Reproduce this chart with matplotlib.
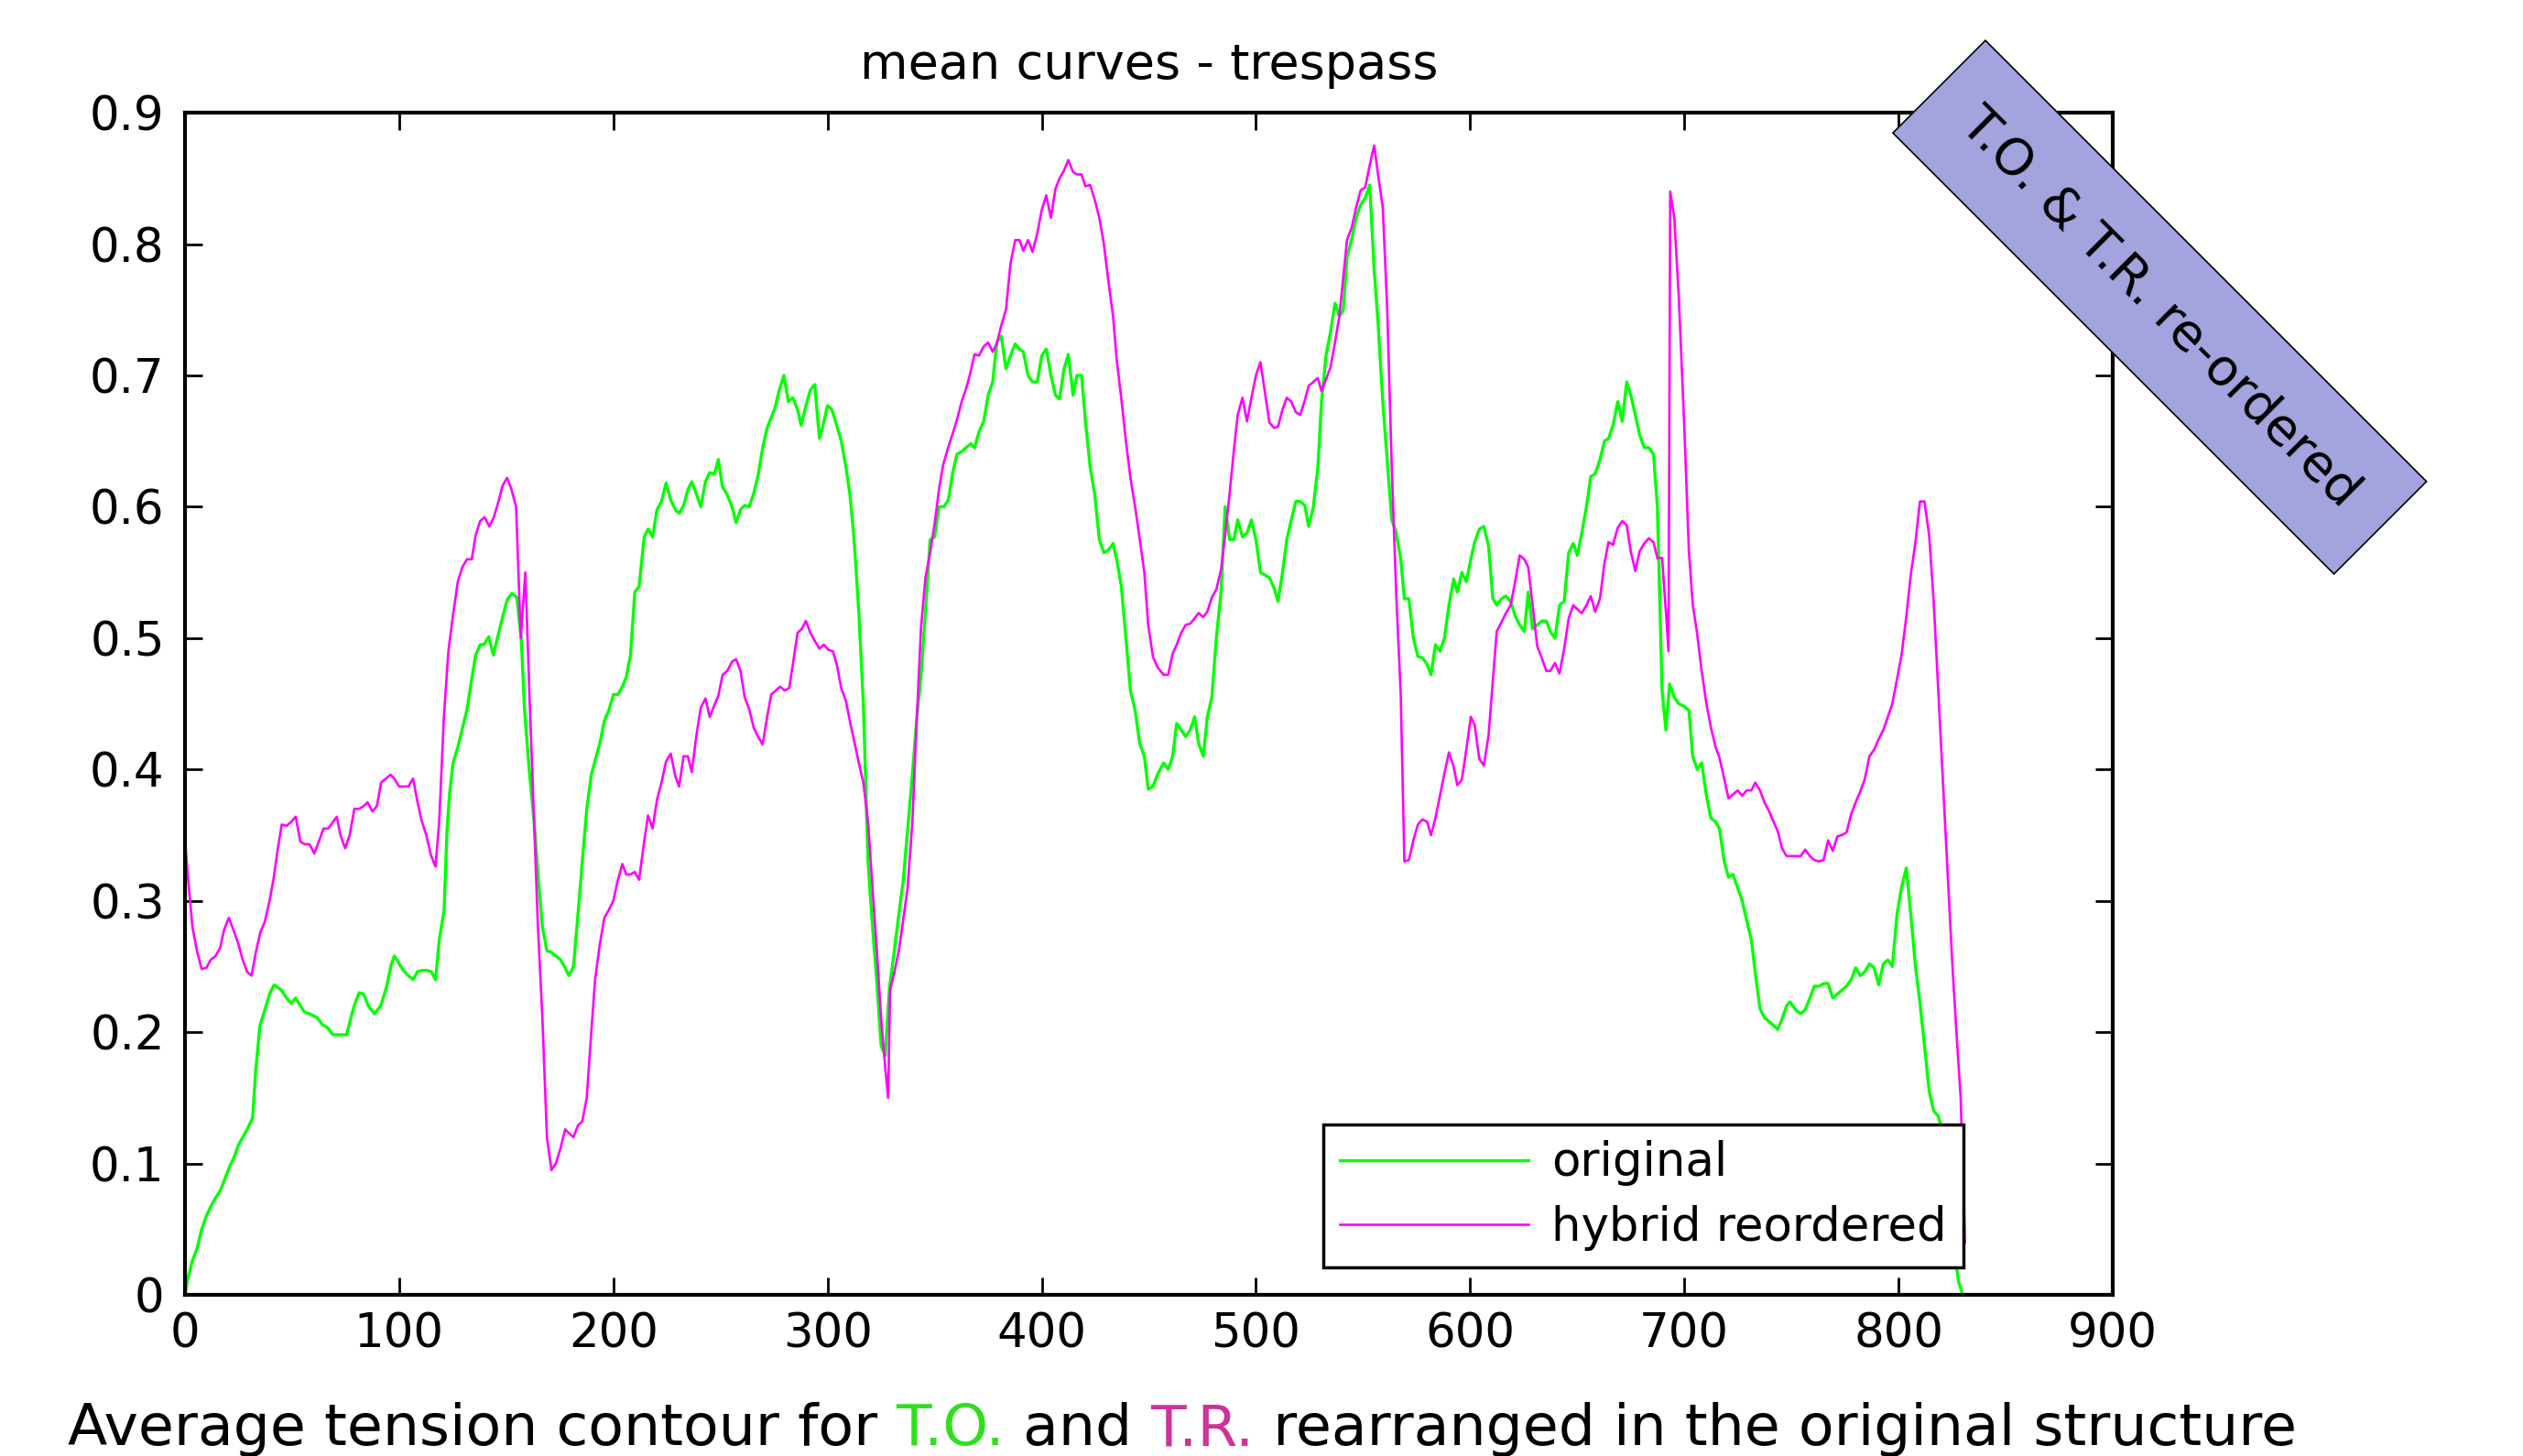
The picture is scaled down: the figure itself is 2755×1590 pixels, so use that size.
import matplotlib
matplotlib.use("Agg")
import matplotlib.pyplot as plt

# ---- data ----
orig_x = [0, 1.3, 3.5, 5.6, 7.8, 10, 12, 14, 16.4, 18.6, 20.7, 23, 25, 27, 29.4, 31.6, 33, 35,
          37.3, 39.5, 41.6, 45, 47.4, 49.6, 51.7, 53.9, 56, 58.2, 61.8, 64, 66.9, 69, 72.6, 75.5,
          77, 79, 81.3, 83.4, 85.6, 88.5, 91.4, 94.2, 96.4, 97.8, 100, 102, 104.3, 106.5, 108.6,
          110.8, 113, 115, 117, 118.7, 121, 122.3, 123.5, 125.2, 127.4, 129.5, 131.7, 133.9,
          135.7, 137.8, 139.6, 141.8, 144, 146, 148.3, 150.4, 152.6, 154.9, 157, 158.5, 160.6,
          163, 164.8, 166.9, 169, 171, 173.2, 175.4, 177.5, 179.3, 181.4, 183.5, 185.5, 187.6,
          189.7, 191.5, 193.7, 195.8, 197.9, 200, 202, 204.2, 206, 208, 210, 212, 214.4, 216.2,
          218.3, 220.4, 222.5, 224.6, 226.8, 228.9, 230.7, 232.8, 234.8, 236.6, 238.7, 240.8,
          243, 245, 247.2, 249, 251, 253.2, 255.4, 257.3, 259.4, 261.3, 263.4, 265.5, 267.6,
          269.7, 271.8, 273.7, 275.4, 277.5, 279.6, 281.7, 283.8, 286, 287.7, 289.9, 292, 294,
          296.2, 297.9, 300, 302, 304.3, 306.4, 308.6, 310.4, 312.4, 314.6, 316.7, 318.9, 321,
          322.9, 325, 326.9, 329, 331, 333.3, 335.3, 337.4, 339.6, 341.7, 343.6, 345.7, 347.9,
          350, 352, 354.3, 356.4, 358.3, 360.4, 362.6, 364.7, 366.9, 368.6, 370.7, 372.9, 375,
          377.1, 379, 381.1, 383.3, 385.4, 387.6, 389.6, 391.4, 393.6, 395.7, 397.9, 400, 402.1,
          404.3, 406.4, 408.3, 410.4, 412.4, 414.6, 416.4, 418.6, 420.4, 422.6, 424.7, 426.9,
          429, 431.1, 433.3, 435, 437.1, 439.3, 441.4, 443.6, 445.7, 447.9, 449.7, 451.9, 454,
          456.9, 459, 461.1, 463, 465.1, 467.2, 469.3, 471.4, 473.2, 475.4, 477.3, 479.4, 481.5,
          483.7, 485.6, 487.7, 489.7, 491.5, 493.7, 495.8, 497.9, 500, 502.1, 504.2, 506.3,
          508.5, 510.3, 512.4, 514.4, 516.5, 518.6, 520.7, 522.8, 524.6, 526.8, 528.9, 530.6,
          532.7, 534.8, 536.9, 539, 540.8, 542.5, 544.6, 546.8, 548.9, 551, 553.1, 555.2, 557,
          559.2, 561.3, 563.4, 565.5, 567.6, 569.3, 571.4, 573.5, 575.6, 577.7, 579.9, 581.7,
          583.8, 585.9, 588, 590.1, 592.3, 594, 596.1, 598.2, 600.3, 602.1, 604.3, 606.4, 608.6,
          610.6, 612.4, 614.6, 616.7, 618.9, 621, 623.1, 625.3, 627.1, 629.1, 631.3, 633.4,
          635.6, 637.4, 639.6, 641.7, 643.9, 646, 648.1, 650, 652.1, 654.3, 656.3, 658.4, 660.6,
          662.7, 664.6, 666.7, 668.9, 671, 673.1, 675, 677.1, 679.1, 681.3, 683.4, 685.6, 687.4,
          689.6, 691.4, 693.1, 695.3, 697.4, 700, 702.1, 703.9, 706, 708.1, 710.3, 712.4, 714.6,
          716.4, 718.6, 720.6, 722.7, 724.9, 727, 729.1, 731.3, 733.1, 735.3, 737.4, 739.6,
          741.7, 743.6, 745.6, 747.7, 749.3, 752, 754.3, 756.4, 758.6, 760.7, 762.9, 765, 767.1,
          769.3, 771.4, 773.6, 775.7, 777.9, 780, 782.1, 784.3, 786.4, 788.6, 790.7, 792.9, 795,
          797.1, 799.3, 801.4, 803.6, 805.7, 807.9, 810, 812.1, 814.3, 816.4, 818.6, 821, 824,
          828, 830]
orig_y = [0.0, 0.012, 0.026, 0.035, 0.05, 0.06, 0.067, 0.073, 0.079, 0.088, 0.097, 0.105, 0.114,
          0.12, 0.127, 0.135, 0.17, 0.205, 0.217, 0.229, 0.236, 0.232, 0.226, 0.222, 0.226, 0.22,
          0.215, 0.214, 0.211, 0.206, 0.203, 0.198, 0.198, 0.198, 0.208, 0.22, 0.23, 0.229, 0.22,
          0.214, 0.22, 0.235, 0.252, 0.258, 0.252, 0.247, 0.243, 0.24, 0.246, 0.247, 0.247, 0.246,
          0.24, 0.27, 0.293, 0.352, 0.381, 0.405, 0.417, 0.431, 0.446, 0.469, 0.487, 0.495, 0.495,
          0.501, 0.487, 0.501, 0.516, 0.529, 0.534, 0.531, 0.50, 0.446, 0.402, 0.36, 0.32, 0.28,
          0.262, 0.261, 0.258, 0.255, 0.249, 0.243, 0.25, 0.29, 0.33, 0.37, 0.396, 0.407, 0.42,
          0.437, 0.445, 0.457, 0.457, 0.463, 0.47, 0.487, 0.535, 0.539, 0.577, 0.583, 0.577, 0.598,
          0.604, 0.618, 0.605, 0.598, 0.595, 0.601, 0.613, 0.619, 0.61, 0.60, 0.619, 0.626, 0.625,
          0.636, 0.615, 0.609, 0.60, 0.588, 0.598, 0.601, 0.60, 0.61, 0.624, 0.645, 0.66, 0.668,
          0.675, 0.689, 0.70, 0.68, 0.683, 0.674, 0.662, 0.677, 0.689, 0.693, 0.652, 0.662, 0.677,
          0.674, 0.662, 0.65, 0.63, 0.61, 0.575, 0.52, 0.45, 0.33, 0.28, 0.24, 0.19, 0.182, 0.235,
          0.26, 0.29, 0.315, 0.355, 0.396, 0.44, 0.47, 0.52, 0.575, 0.577, 0.60, 0.60, 0.605, 0.625,
          0.64, 0.642, 0.645, 0.648, 0.645, 0.657, 0.665, 0.685, 0.695, 0.725, 0.73, 0.705, 0.715,
          0.724, 0.72, 0.718, 0.70, 0.695, 0.695, 0.715, 0.72, 0.70, 0.685, 0.682, 0.705, 0.716,
          0.685, 0.70, 0.70, 0.665, 0.63, 0.61, 0.575, 0.565, 0.567, 0.572, 0.56, 0.54, 0.50, 0.46,
          0.445, 0.42, 0.41, 0.385, 0.387, 0.396, 0.405, 0.40, 0.41, 0.435, 0.43, 0.425, 0.43, 0.44,
          0.42, 0.41, 0.44, 0.455, 0.50, 0.535, 0.60, 0.575, 0.575, 0.59, 0.577, 0.58, 0.59, 0.575,
          0.55, 0.548, 0.546, 0.538, 0.528, 0.55, 0.575, 0.59, 0.604, 0.604, 0.601, 0.585, 0.60,
          0.63, 0.68, 0.715, 0.733, 0.755, 0.745, 0.75, 0.79, 0.803, 0.82, 0.83, 0.835, 0.845,
          0.78, 0.74, 0.68, 0.635, 0.59, 0.58, 0.56, 0.53, 0.53, 0.50, 0.486, 0.485, 0.48, 0.472,
          0.495, 0.49, 0.50, 0.525, 0.545, 0.535, 0.55, 0.543, 0.56, 0.573, 0.583, 0.585, 0.57,
          0.53, 0.525, 0.53, 0.532, 0.528, 0.517, 0.51, 0.505, 0.535, 0.507, 0.51, 0.513, 0.513,
          0.505, 0.50, 0.525, 0.528, 0.565, 0.572, 0.563, 0.58, 0.60, 0.623, 0.625, 0.636, 0.65,
          0.652, 0.662, 0.68, 0.665, 0.695, 0.685, 0.67, 0.655, 0.645, 0.645, 0.64, 0.60, 0.46,
          0.43, 0.465, 0.455, 0.45, 0.448, 0.445, 0.41, 0.40, 0.405, 0.38, 0.363, 0.36, 0.355,
          0.33, 0.318, 0.32, 0.31, 0.30, 0.285, 0.27, 0.245, 0.218, 0.211, 0.208, 0.205, 0.202,
          0.21, 0.22, 0.223, 0.217, 0.214, 0.217, 0.226, 0.235, 0.235, 0.237, 0.237, 0.226, 0.229,
          0.232, 0.235, 0.24, 0.249, 0.243, 0.246, 0.252, 0.249, 0.236, 0.252, 0.255, 0.25, 0.29,
          0.31, 0.325, 0.29, 0.25, 0.222, 0.19, 0.155, 0.14, 0.136, 0.12, 0.06, 0.01, 0.0]

hyb_x = [0, 1.3, 3.5, 5.6, 7.8, 10, 12, 14.3, 16.4, 18.3, 20.5, 22.6, 24.8, 26.8, 29, 31.1, 33,
         35.2, 37.3, 39.5, 41.4, 43.4, 45.2, 47.4, 49.6, 51.7, 53.9, 56, 58.2, 60.4, 62.5, 64.7,
         66.9, 68.7, 70.9, 72.6, 74.8, 76.9, 79.1, 81.3, 83.4, 85.3, 87.5, 89.6, 91.6, 93.8, 96,
         97.8, 100, 102.2, 104.3, 106.5, 108.6, 110.5, 112.7, 114.8, 117, 118.7, 120.9, 123,
         125.2, 127.4, 129.5, 131.7, 133.9, 135.7, 137.8, 139.9, 142.1, 144.2, 146.4, 148.3,
         150.4, 152.3, 154.6, 156.8, 158.9, 161, 163, 164.8, 166.9, 169, 171.1, 173.2, 175.4,
         177.5, 179.3, 181.4, 183.5, 185.5, 187.6, 189.7, 191.5, 193.7, 195.8, 197.9, 200, 202,
         204.2, 206, 208, 210, 212, 214.4, 216.2, 218.3, 220.4, 222.5, 224.6, 226.8, 228.9,
         230.7, 232.8, 234.8, 236.6, 238.7, 240.8, 243, 245, 247.2, 249, 251, 253.2, 255.4,
         257.3, 259.4, 261.3, 263.4, 265.5, 267.6, 269.7, 271.8, 273.7, 275.8, 277.9, 280,
         282.1, 283.8, 286, 288, 289.9, 292, 294, 296.2, 298.3, 300.4, 302.5, 304.3, 306.4,
         308.6, 310.4, 312.4, 314.6, 316.7, 318.9, 321, 323.1, 325, 327.1, 328.3, 329.2, 331.1,
         333.3, 335.3, 337.4, 339.6, 341.7, 343.6, 345.7, 347.9, 350, 352.1, 354, 356.1, 358.3,
         360.4, 362.6, 364.7, 366.4, 368.6, 370.7, 372.9, 375, 377.1, 379, 381.1, 383.3, 385.4,
         387.6, 389.6, 391.4, 393.6, 395.7, 397.9, 400, 402.1, 404.3, 406.4, 408.3, 410.4,
         412.4, 414.6, 416.4, 418.6, 420.4, 422.6, 424.7, 426.9, 429, 431.1, 433.3, 435, 437.1,
         439.3, 441.4, 443.6, 445.7, 447.9, 449.7, 451.9, 454, 456.9, 459, 461.1, 463, 465.1,
         467.2, 469.3, 471.4, 473.2, 475.4, 477.3, 479.4, 481.5, 483.7, 485.6, 487.7, 489.7,
         491.5, 493.7, 495.8, 497.9, 500, 502.1, 504.2, 506.3, 508.5, 510.3, 512.4, 514.4,
         516.5, 518.6, 520.7, 522.8, 524.6, 526.8, 528.9, 530.6, 532.7, 534.8, 536.9, 539,
         540.8, 542.5, 544.6, 546.8, 548.9, 551, 553.1, 555.2, 557, 559.2, 561.3, 563.4, 565.5,
         567.6, 569.3, 571.4, 573.5, 575.6, 577.7, 579.9, 581.7, 583.8, 585.9, 588, 590.1,
         592.3, 594, 596.1, 598.2, 600.3, 602.1, 604.3, 606.4, 608.6, 610.6, 612.4, 614.6,
         616.7, 618.9, 621, 623.1, 625.3, 627.1, 629.1, 631.3, 633.4, 635.6, 637.4, 639.6,
         641.7, 643.9, 646, 648.1, 650, 652.1, 654.3, 656.3, 658.4, 660.6, 662.7, 664.6, 666.7,
         668.9, 671, 673.1, 675, 677.1, 679.1, 681.3, 683.4, 685.6, 687.4, 689.6, 691.4, 692.6,
         693.4, 695.3, 697.4, 700, 702.1, 703.9, 706, 708.1, 710.3, 712.4, 714.6, 716.4, 718.6,
         720.6, 722.7, 724.9, 727, 729.1, 731.3, 733.1, 735.3, 737.4, 739.6, 741.7, 743.6,
         745.6, 747.7, 750, 752.1, 754.3, 756.4, 758.6, 760.7, 762.9, 765, 767.1, 769.3, 771.4,
         773.6, 775.7, 777.9, 780, 782.1, 784.3, 786.4, 788.6, 790.7, 792.9, 795, 797.1, 799.3,
         801.4, 803.6, 805.7, 807.9, 810, 812.1, 814.3, 816.4, 818.6, 820.7, 822.9, 825, 827.1,
         829, 831]
hyb_y = [0.346, 0.32, 0.28, 0.262, 0.248, 0.249, 0.255, 0.258, 0.264, 0.278, 0.287, 0.278, 0.268,
         0.256, 0.246, 0.243, 0.26, 0.276, 0.284, 0.30, 0.317, 0.34, 0.358, 0.357, 0.36, 0.364,
         0.345, 0.343, 0.343, 0.336, 0.345, 0.355, 0.355, 0.359, 0.364, 0.35, 0.34, 0.35, 0.37,
         0.37, 0.372, 0.375, 0.368, 0.372, 0.39, 0.393, 0.396, 0.393, 0.387, 0.387, 0.387, 0.393,
         0.375, 0.361, 0.35, 0.335, 0.326, 0.36, 0.44, 0.49, 0.518, 0.543, 0.554, 0.56, 0.56,
         0.578, 0.589, 0.592, 0.585, 0.592, 0.604, 0.616, 0.622, 0.614, 0.60, 0.50, 0.55, 0.45,
         0.36, 0.28, 0.21, 0.12, 0.095, 0.10, 0.112, 0.126, 0.123, 0.12, 0.129, 0.132, 0.15,
         0.20, 0.24, 0.267, 0.287, 0.293, 0.30, 0.315, 0.328, 0.32, 0.32, 0.322, 0.316, 0.345,
         0.365, 0.355, 0.377, 0.39, 0.406, 0.412, 0.395, 0.387, 0.41, 0.41, 0.398, 0.425, 0.447,
         0.454, 0.44, 0.449, 0.456, 0.472, 0.475, 0.482, 0.484, 0.475, 0.455, 0.446, 0.432,
         0.425, 0.419, 0.44, 0.457, 0.46, 0.463, 0.46, 0.462, 0.48, 0.504, 0.507, 0.513, 0.504,
         0.498, 0.492, 0.495, 0.491, 0.49, 0.48, 0.462, 0.452, 0.437, 0.422, 0.405, 0.39, 0.36,
         0.31, 0.26, 0.21, 0.17, 0.15, 0.232, 0.245, 0.262, 0.285, 0.31, 0.36, 0.44, 0.507,
         0.546, 0.565, 0.587, 0.614, 0.632, 0.644, 0.655, 0.666, 0.68, 0.69, 0.70, 0.716, 0.715,
         0.722, 0.725, 0.718, 0.724, 0.738, 0.75, 0.785, 0.803, 0.803, 0.795, 0.803, 0.794,
         0.808, 0.826, 0.837, 0.82, 0.842, 0.85, 0.856, 0.864, 0.855, 0.853, 0.853, 0.844,
         0.845, 0.834, 0.82, 0.80, 0.772, 0.745, 0.712, 0.683, 0.65, 0.622, 0.60, 0.576, 0.55,
         0.51, 0.486, 0.478, 0.472, 0.472, 0.488, 0.495, 0.504, 0.51, 0.511, 0.515, 0.519,
         0.516, 0.52, 0.531, 0.537, 0.552, 0.578, 0.61, 0.643, 0.67, 0.683, 0.665, 0.683, 0.70,
         0.71, 0.687, 0.664, 0.66, 0.661, 0.674, 0.683, 0.68, 0.672, 0.67, 0.681, 0.692, 0.695,
         0.698, 0.688, 0.697, 0.706, 0.725, 0.746, 0.775, 0.803, 0.812, 0.828, 0.841, 0.843,
         0.86, 0.875, 0.853, 0.828, 0.75, 0.63, 0.533, 0.457, 0.33, 0.331, 0.346, 0.358, 0.362,
         0.36, 0.35, 0.363, 0.38, 0.397, 0.413, 0.402, 0.388, 0.392, 0.415, 0.44, 0.434, 0.408,
         0.403, 0.426, 0.468, 0.505, 0.512, 0.519, 0.525, 0.543, 0.563, 0.56, 0.554, 0.526,
         0.494, 0.485, 0.475, 0.475, 0.481, 0.473, 0.492, 0.515, 0.525, 0.522, 0.519, 0.525,
         0.532, 0.52, 0.53, 0.557, 0.573, 0.571, 0.584, 0.589, 0.586, 0.566, 0.551, 0.566,
         0.572, 0.576, 0.573, 0.561, 0.561, 0.52, 0.49, 0.84, 0.82, 0.76, 0.66, 0.567, 0.526,
         0.503, 0.475, 0.45, 0.432, 0.417, 0.409, 0.393, 0.378, 0.381, 0.384, 0.38, 0.384,
         0.384, 0.39, 0.384, 0.375, 0.368, 0.36, 0.353, 0.34, 0.334, 0.334, 0.334, 0.334, 0.339,
         0.334, 0.331, 0.33, 0.331, 0.346, 0.338, 0.349, 0.35, 0.352, 0.366, 0.375, 0.383,
         0.393, 0.41, 0.415, 0.423, 0.43, 0.44, 0.45, 0.469, 0.487, 0.516, 0.548, 0.573, 0.604,
         0.604, 0.578, 0.528, 0.458, 0.39, 0.322, 0.255, 0.198, 0.15, 0.04]

x_ticks = [0, 100, 200, 300, 400, 500, 600, 700, 800, 900]
y_ticks = [0, 0.1, 0.2, 0.3, 0.4, 0.5, 0.6, 0.7, 0.8, 0.9]
y_tick_labels = ['0', '0.1', '0.2', '0.3', '0.4', '0.5', '0.6', '0.7', '0.8', '0.9']

caption_parts = ['Average tension contour for ', 'T.O.', ' and ', 'T.R.',
                 ' rearranged in the original structure']
caption_colors = ['black', '#2ee01c', 'black', '#cc3399', 'black']

GREEN = '#00ff00'
MAGENTA = '#ff00ff'


def plot():
    fig = plt.figure(figsize=(27.55, 15.90), dpi=100)
    ax = fig.add_axes([0.0733, 0.1107, 0.7641, 0.8119])

    ax.plot(orig_x, orig_y, color=GREEN, lw=2.4, label='original')
    ax.plot(hyb_x, hyb_y, color=MAGENTA, lw=1.9, label='hybrid reordered')

    ax.set_xlim(0, 900)
    ax.set_ylim(0, 0.9)
    ax.set_xticks(x_ticks)
    ax.set_yticks(y_ticks)
    ax.set_yticklabels(y_tick_labels)
    ax.tick_params(direction='in', length=14, width=2, labelsize=37,
                   top=True, right=True)
    ax.tick_params(axis='x', pad=13)
    ax.tick_params(axis='y', pad=16)
    for sp in ax.spines.values():
        sp.set_linewidth(3)

    ax.set_title('mean curves - trespass', fontsize=39, pad=27)

    leg = ax.legend(loc='lower right', bbox_to_anchor=(0.9226, 0.0232),
                    borderaxespad=0, fontsize=37, handlelength=4.0,
                    handletextpad=0.5, labelspacing=0.4, borderpad=0.35,
                    fancybox=False, framealpha=1, edgecolor='black')
    leg.get_frame().set_linewidth(2.5)
    leg.set_zorder(5)

    # rotated banner in the top right corner
    fig.text(0.856, 0.789, 'T.O. & T.R. re-ordered', fontsize=40,
             rotation=-45, rotation_mode='anchor', ha='center', va='center',
             bbox=dict(boxstyle='square,pad=0.8', fc='#a3a3de', ec='black', lw=1.2),
             zorder=10)

    # caption with coloured parts, chained one after another
    prev = fig.text(0.0269, 0.0075, caption_parts[0], fontsize=45.5,
                    color=caption_colors[0], va='baseline', ha='left')
    for txt, col in zip(caption_parts[1:], caption_colors[1:]):
        prev = fig.add_artist(plt.Annotation(txt, xy=(1, 0), xycoords=prev,
                                             va='bottom', ha='left',
                                             fontsize=45.5, color=col))

    fig.savefig('out.png', dpi=100)


if __name__ == '__main__':
    plot()
